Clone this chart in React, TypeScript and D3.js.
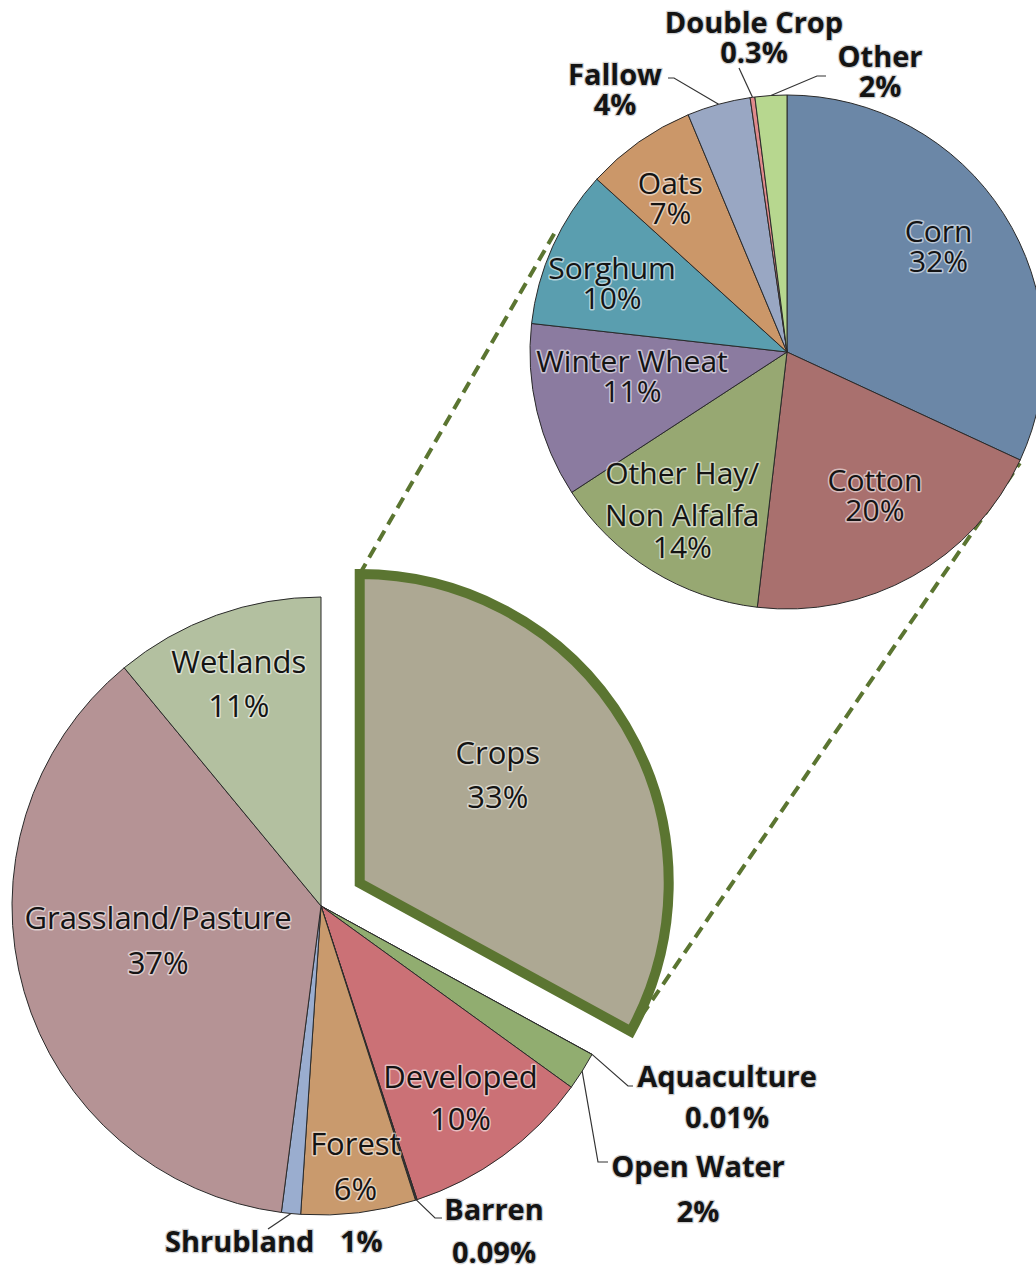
import * as d3 from "d3";
import * as React from "react";

// land cover, main pie (clockwise from 12 o'clock)
const landCover = ["Crops", "Aquaculture", "Open Water", "Developed", "Barren", "Forest", "Shrubland", "Grassland/Pasture", "Wetlands"];
const landShare = [33, 0.01, 2, 10, 0.09, 6, 1, 37, 11];
const landColors = ["#ada893", "#9aa878", "#91ad70", "#cb7176", "#3a3a3a", "#c99a6d", "#9aadcf", "#b59395", "#b3c0a0"];

// break-out of the crops slice
const cropTypes = ["Corn", "Cotton", "Other Hay/\nNon Alfalfa", "Winter Wheat", "Sorghum", "Oats", "Fallow", "Double Crop", "Other"];
const cropShare = [32, 20, 14, 11, 10, 7, 4, 0.3, 2];
const cropColors = ["#6b87a7", "#a9706e", "#97a872", "#8b7ba0", "#5a9eaf", "#cb9769", "#99a7c3", "#e08a8c", "#b7d78f"];

const W = 1036, H = 1271;
const FONT = "'Open Sans', 'DejaVu Sans', sans-serif";
const OLIVE = "#5b7531";

const main = { cx: 321, cy: 906, r: 309, explode: 45, font: 31 };
const sub = { cx: 787, cy: 352, r: 257, font: 30 };

type Spec = {
    out?: boolean;
    dx: number; dy: number;
    gap: number[];
    leader?: [number, number][];
    inline?: boolean;
};

const cropLayout: Spec[] = [
    { dx: 0, dy: -13, gap: [30] },
    { dx: 0, dy: -18, gap: [30] },
    { dx: -10, dy: -21, gap: [42, 32] },
    { dx: 20, dy: -22, gap: [30] },
    { dx: -11, dy: 1, gap: [30] },
    { dx: -13, dy: -11, gap: [30] },
    { out: true, dx: -172, dy: -267, gap: [30], leader: [[-113, -274], [-119, -274]] },
    { out: true, dx: -33, dy: -319, gap: [30], leader: [[-48, -284]] },
    { out: true, dx: 93, dy: -285, gap: [30], leader: [[30, -276], [39, -276]] },
];

const landLayout: Spec[] = [
    { dx: -48, dy: -9, gap: [44] },
    { out: true, dx: 406, dy: 181, gap: [41], leader: [[307, 180], [312, 180]] },
    { out: true, dx: 377, dy: 271, gap: [45], leader: [[277, 256], [287, 256]] },
    { dx: 12, dy: 7, gap: [42] },
    { out: true, dx: 173, dy: 314, gap: [43], leader: [[114, 312], [121, 312]] },
    { dx: 8, dy: 34, gap: [45] },
    { out: true, inline: true, dx: -156, dy: 346, gap: [], leader: [[-53, 323]] },
    { dx: 45, dy: -37, gap: [45] },
    { dx: -9, dy: -29, gap: [44] },
];

const polar = (a: number, r: number): [number, number] => [Math.sin(a) * r, -Math.cos(a) * r];

export default function App() {
    const ref = React.useRef<SVGSVGElement>(null);

    React.useEffect(() => {
        const svg = d3.select(ref.current!);
        svg.selectAll("*").remove();

        const pie = d3.pie<number>().sort(null).value(d => d);
        const mainArcs = pie(landShare);
        const subArcs = pie(cropShare);

        const mainArc = d3.arc<d3.PieArcDatum<number>>().innerRadius(0).outerRadius(main.r);
        const subArc = d3.arc<d3.PieArcDatum<number>>().innerRadius(0).outerRadius(sub.r);

        const crops = mainArcs[0];
        const mid = (crops.startAngle + crops.endAngle) / 2;
        const [ex, ey] = polar(mid, main.explode);
        const ccx = main.cx + ex, ccy = main.cy + ey;

        // dashed connectors from the exploded slice to the secondary pie
        const from1 = polar(crops.startAngle, main.r);
        const from2 = polar(crops.endAngle, main.r);
        const to1 = polar((298 * Math.PI) / 180, sub.r + 4);
        const to2 = polar((115.5 * Math.PI) / 180, sub.r + 1);
        svg.append("g")
            .selectAll("line")
            .data([[from1, to1], [from2, to2]])
            .join("line")
            .attr("x1", d => ccx + d[0][0])
            .attr("y1", d => ccy + d[0][1])
            .attr("x2", d => sub.cx + d[1][0])
            .attr("y2", d => sub.cy + d[1][1])
            .attr("stroke", OLIVE)
            .attr("stroke-width", 4)
            .attr("stroke-dasharray", "12 7");

        // main pie, remaining slices
        svg.append("g")
            .attr("transform", `translate(${main.cx},${main.cy})`)
            .selectAll("path")
            .data(mainArcs.slice(1))
            .join("path")
            .attr("d", mainArc)
            .attr("fill", (d, i) => landColors[i + 1])
            .attr("stroke", "#2a2a2a")
            .attr("stroke-width", 1)
            .attr("stroke-linejoin", "round");

        // exploded crops slice
        svg.append("path")
            .attr("transform", `translate(${ccx},${ccy})`)
            .attr("d", mainArc(crops)!)
            .attr("fill", landColors[0])
            .attr("stroke", OLIVE)
            .attr("stroke-width", 10);

        // secondary pie
        svg.append("g")
            .attr("transform", `translate(${sub.cx},${sub.cy})`)
            .selectAll("path")
            .data(subArcs)
            .join("path")
            .attr("d", subArc)
            .attr("fill", (d, i) => cropColors[i])
            .attr("stroke", "#2a2a2a")
            .attr("stroke-width", 1)
            .attr("stroke-linejoin", "round");

        const labels = svg.append("g").attr("font-family", FONT).attr("fill", "#141414");

        const putText = (x: number, y: number, lines: string[], gap: number[], bold: boolean, size: number) => {
            const t = labels.append("text")
                .attr("text-anchor", "middle")
                .attr("font-size", bold ? 29 : size)
                .attr("font-weight", bold ? 700 : 400)
                .style("paint-order", "stroke")
                .attr("stroke", bold ? "rgba(150,150,150,0.45)" : "rgba(255,255,255,0.55)")
                .attr("stroke-width", bold ? 2.5 : 3)
                .attr("stroke-linejoin", "round");
            let yy = y;
            lines.forEach((ln, i) => {
                if (i > 0) yy += gap[i - 1];
                t.append("tspan").attr("x", x).attr("y", yy).text(ln);
            });
            return t;
        };

        const drawLabels = (
            arcs: d3.PieArcDatum<number>[], names: string[], layout: Spec[],
            cx: number, cy: number, r: number, size: number,
        ) => {
            arcs.forEach((a, i) => {
                const spec = layout[i];
                const m = (a.startAngle + a.endAngle) / 2;
                const lines = [...names[i].split("\n"), `${a.data}%`];
                let ox = cx, oy = cy;
                if (i === 0 && names === landCover) { ox = ccx; oy = ccy; }
                if (!spec.out) {
                    const [px, py] = polar(m, r * 0.7);
                    putText(ox + px + spec.dx, oy + py + spec.dy, lines, spec.gap, false, size);
                    return;
                }
                const edge = polar(m, r);
                const pts: [number, number][] = [[cx + edge[0], cy + edge[1]], ...spec.leader!.map(p => [cx + p[0], cy + p[1]] as [number, number])];
                labels.append("path")
                    .attr("d", d3.line()(pts)!)
                    .attr("fill", "none")
                    .attr("stroke", "#333")
                    .attr("stroke-width", 1.2);
                if (spec.inline) {
                    const t = labels.append("text")
                        .attr("font-size", 29)
                        .attr("font-weight", 700)
                        .style("paint-order", "stroke")
                        .attr("stroke", "rgba(150,150,150,0.45)")
                        .attr("stroke-width", 2.5)
                        .attr("x", cx + spec.dx)
                        .attr("y", cy + spec.dy);
                    t.append("tspan").text(lines[0]);
                    t.append("tspan").attr("x", cx + spec.dx + 175).text(lines[1]);
                } else {
                    putText(cx + spec.dx, cy + spec.dy, lines, spec.gap, true, size);
                }
            });
        };

        drawLabels(subArcs, cropTypes, cropLayout, sub.cx, sub.cy, sub.r, sub.font);
        drawLabels(mainArcs, landCover, landLayout, main.cx, main.cy, main.r, main.font);
    }, []);

    return (
        <svg
            ref={ref}
            width={W}
            height={H}
            style={{ position: "absolute", left: 0, top: 0, background: "#fff" }}
        />
    );
}
